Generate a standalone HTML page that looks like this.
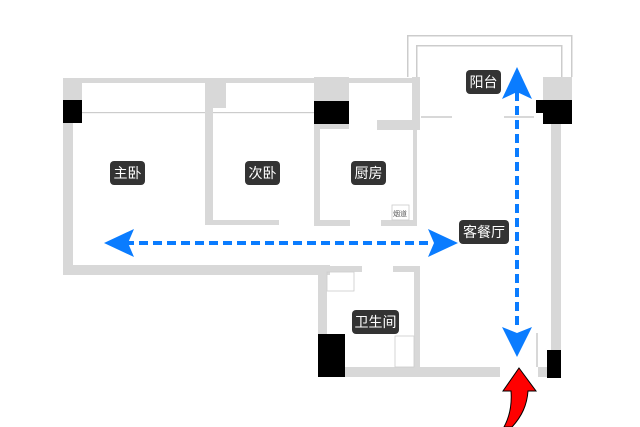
<!DOCTYPE html>
<html><head><meta charset="utf-8"><style>
html,body{margin:0;padding:0;background:#fff;}
svg{display:block;}
.l{font-family:"Liberation Sans","Noto Sans CJK SC",sans-serif;font-size:14px;fill:#fff;text-anchor:middle;}
</style></head><body>
<svg width="640" height="427" viewBox="0 0 640 427" xmlns="http://www.w3.org/2000/svg">
<g fill="#d8d8d8">
<!-- balcony -->
<rect x="407" y="35" width="165" height="1.5" fill="#ccc"/>
<rect x="407" y="35" width="1.5" height="42" fill="#ccc"/>
<rect x="571" y="35" width="1.5" height="42" fill="#ccc"/>
<rect x="416" y="45" width="146" height="1.5" fill="#ccc"/>
<rect x="416" y="45" width="1.5" height="32" fill="#ccc"/>
<rect x="561" y="45" width="1.5" height="32" fill="#ccc"/>
<!-- top band -->
<rect x="63" y="78" width="350" height="5"/>
<rect x="82" y="112" width="232" height="1.2" fill="#ccc"/>
<!-- left wall -->
<rect x="63" y="78" width="19" height="22"/>
<rect x="63" y="123" width="10" height="150"/>
<rect x="63" y="265" width="267" height="10"/>
<!-- second bedroom wall -->
<rect x="205" y="78" width="21" height="30"/>
<rect x="205" y="108" width="8" height="117"/>
<rect x="205" y="220" width="74" height="5"/>
<!-- kitchen -->
<rect x="314" y="77" width="35" height="24"/>
<rect x="314" y="124" width="6" height="101"/>
<rect x="320" y="124" width="29" height="5"/>
<rect x="314" y="220" width="36" height="6"/>
<rect x="381" y="220" width="36" height="6"/>
<rect x="412" y="77" width="8" height="53"/>
<rect x="377" y="120" width="36" height="10"/>
<rect x="413" y="130" width="4" height="95"/>
<rect x="421" y="116" width="31" height="2"/>
<rect x="504" y="116" width="30" height="2"/>
<!-- right -->
<rect x="543" y="77" width="29" height="23"/>
<rect x="551" y="124" width="10" height="226"/>
<!-- bath -->
<rect x="318" y="266" width="9" height="68"/>
<rect x="327" y="266" width="35" height="6"/>
<rect x="393" y="266" width="27" height="6"/>
<rect x="414" y="266" width="6" height="101"/>
<rect x="345" y="367" width="155" height="10"/>
<rect x="538" y="367" width="9" height="10"/>
<rect x="536" y="333" width="2" height="34"/>
</g>
<rect x="327" y="272" width="27" height="19" fill="none" stroke="#ccc" stroke-width="0.8"/>
<rect x="395" y="336" width="19" height="31" fill="none" stroke="#ccc" stroke-width="0.8"/>
<rect x="392" y="205" width="17" height="15" fill="#fff" stroke="#ccc" stroke-width="0.8"/>
<text x="400" y="216" font-size="7" fill="#555" text-anchor="middle" font-family="Noto Sans CJK SC,sans-serif">烟道</text>
<g fill="#000">
<rect x="63" y="100" width="19" height="23"/>
<rect x="314" y="101" width="35" height="23"/>
<path d="M536 100H572V124H543V113H536Z"/>
<rect x="547" y="350" width="14" height="28"/>
<rect x="318" y="334" width="27" height="43"/>
</g>
<!-- arrows -->
<line x1="125" y1="243" x2="432" y2="243" stroke="#0a7cff" stroke-width="4" stroke-dasharray="9,5"/>
<path d="M104 243L134 229L128 243L134 257Z" fill="#0a7cff"/>
<path d="M458 243L428 229L434 243L428 257Z" fill="#0a7cff"/>
<line x1="517" y1="92" x2="517" y2="330" stroke="#0a7cff" stroke-width="4" stroke-dasharray="9,5"/>
<path d="M517 67L502 99L517 92L532 99Z" fill="#0a7cff"/>
<path d="M517 357L502 327L517 333L532 327Z" fill="#0a7cff"/>
<path d="M519 368L536 391H528C527 405 522 416 512 427H504C510 416 512 404 511 391H503Z" fill="#f00" stroke="#000" stroke-width="1"/>
<!-- labels -->
<g fill="#333">
<rect x="110" y="161" width="35" height="24" rx="4"/>
<rect x="245" y="161" width="35" height="24" rx="4"/>
<rect x="351" y="161" width="35" height="24" rx="4"/>
<rect x="466" y="70" width="35" height="24" rx="4"/>
<rect x="459" y="220" width="50" height="24" rx="4"/>
<rect x="352" y="310" width="47" height="24" rx="4"/>
</g>
<text class="l" x="127.5" y="178">主卧</text>
<text class="l" x="262.5" y="178">次卧</text>
<text class="l" x="368.5" y="178">厨房</text>
<text class="l" x="483.5" y="87">阳台</text>
<text class="l" x="484" y="237">客餐厅</text>
<text class="l" x="375.5" y="327">卫生间</text>
</svg>
</body></html>
